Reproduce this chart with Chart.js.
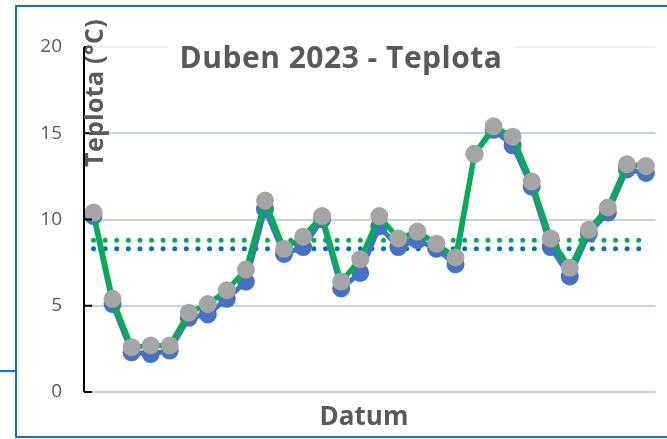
<!DOCTYPE html>
<html>
<head>
<meta charset="utf-8">
<script src="https://cdn.jsdelivr.net/npm/chart.js@4"></script>
<style>
  html, body { margin: 0; padding: 0; background: #fff; }
  #wrap { width: 667px; height: 439px; position: relative; }
</style>
</head>
<body>
<div id="wrap"><canvas id="mycanvas" width="667" height="439"></canvas></div>
<script>
// dny v dubnu
var dny = [];
for (var d = 1; d <= 30; d++) dny.push(d + ".4.");

// namerene teploty (modra) a druha rada (zelena / sede body)
var teplotaModra = [10.2, 5.1, 2.3, 2.2, 2.4, 4.3, 4.5, 5.4, 6.4, 10.6,
                    8.0, 8.4, 10.0, 6.0, 6.9, 9.6, 8.4, 8.8, 8.3, 7.4,
                    13.8, 15.2, 14.3, 11.9, 8.4, 6.7, 9.2, 10.4, 12.9, 12.7];
var teplotaZelena = [10.4, 5.4, 2.6, 2.7, 2.7, 4.6, 5.1, 5.9, 7.1, 11.1,
                     8.3, 9.0, 10.2, 6.4, 7.7, 10.2, 8.9, 9.3, 8.6, 7.8,
                     13.8, 15.4, 14.8, 12.2, 8.9, 7.2, 9.4, 10.7, 13.2, 13.1];
var prumerModra = 8.3;
var prumerZelena = 8.8;
var yTicks = [0, 5, 10, 15, 20];

var textColor = "#595959";

var kresleni = {
    id: "kresleni",
    beforeDraw: function(chart) {
        var c = chart.ctx;
        c.save();
        c.fillStyle = "#fff";
        c.fillRect(0, 0, chart.width, chart.height);
        c.restore();
    },
    afterDatasetsDraw: function(chart) {
        var c = chart.ctx;
        var y = chart.scales.y;
        var a = chart.chartArea;
        c.save();
        // osa Y s dovnitr smerujicimi carkami
        c.strokeStyle = "#000";
        c.lineWidth = 2;
        c.beginPath();
        c.moveTo(a.left, y.getPixelForValue(20));
        c.lineTo(a.left, y.getPixelForValue(0));
        yTicks.forEach(function(t) {
            var py = y.getPixelForValue(t);
            c.moveTo(a.left, py);
            c.lineTo(a.left + 8, py);
        });
        c.stroke();

        // ramecek
        c.strokeStyle = "#0A74C8";
        c.lineWidth = 2;
        c.beginPath();
        c.moveTo(667, 6); c.lineTo(16, 6); c.lineTo(16, 437); c.lineTo(667, 437);
        c.moveTo(0, 371); c.lineTo(16, 371);
        c.stroke();

        // nadpis
        c.fillStyle = "#fff";
        c.fillRect(168, 36, 347, 44);
        c.fillStyle = textColor;
        c.textAlign = "center";
        c.textBaseline = "alphabetic";
        c.font = "bold 30px 'Open Sans'";
        c.letterSpacing = "0.5px";
        c.fillText("Duben 2023 - Teplota", 341, 68);

        // popisek osy X
        c.font = "bold 26px 'Open Sans'";
        c.letterSpacing = "0px";
        c.fillText("Datum", 364, 425);

        // popisek osy Y
        c.translate(103, 93);
        c.rotate(-Math.PI / 2);
        c.font = "bold 25px 'Open Sans'";
        c.letterSpacing = "0.3px";
        c.fillText("Teplota (°C)", 0, 0);
        c.restore();
    }
};

var ctx = document.getElementById("mycanvas");

var LineGraph = new Chart(ctx, {
    type: "line",
    data: {
        labels: dny,
        datasets: [
            {
                label: "Teplota 2",
                data: teplotaZelena,
                borderColor: "#00B050",
                borderWidth: 5,
                pointBackgroundColor: "#A5A5A5",
                pointBorderColor: "#A5A5A5",
                pointRadius: 6.5,
                tension: 0,
                order: 0
            },
            {
                label: "Teplota",
                data: teplotaModra,
                borderColor: "#4472C4",
                borderWidth: 5,
                pointBackgroundColor: "#4472C4",
                pointBorderColor: "#4472C4",
                pointRadius: 6.5,
                tension: 0,
                order: 1
            },
            {
                label: "Průměr 2",
                data: dny.map(function() { return prumerZelena; }),
                borderColor: "#00B050",
                borderWidth: 5,
                borderDash: [0, 11.6],
                borderCapStyle: "round",
                pointRadius: 0,
                order: 2
            },
            {
                label: "Průměr",
                data: dny.map(function() { return prumerModra; }),
                borderColor: "#0070C0",
                borderWidth: 5,
                borderDash: [0, 11.6],
                borderCapStyle: "round",
                pointRadius: 0,
                order: 3
            }
        ]
    },
    options: {
        responsive: false,
        animation: false,
        layout: { padding: { top: 47, bottom: 47, right: 5, left: 0 } },
        plugins: {
            legend: { display: false },
            tooltip: { enabled: false },
            title: { display: false }
        },
        scales: {
            x: {
                display: false,
                offset: true
            },
            y: {
                min: 0,
                max: 20,
                afterFit: function(scale) { scale.width = 84; },
                afterBuildTicks: function(scale) {
                    scale.ticks = yTicks.map(function(v) { return { value: v }; });
                },
                ticks: {
                    color: textColor,
                    padding: 22,
                    font: { family: "'Open Sans'", size: 19 }
                },
                border: { display: false },
                grid: {
                    drawTicks: false,
                    lineWidth: 2,
                    color: function(c) {
                        return c.tick && c.tick.value === 20 ? "#F0F1F8" : "#C2D2EE";
                    }
                }
            }
        }
    },
    plugins: [kresleni]
});
</script>
</body>
</html>
